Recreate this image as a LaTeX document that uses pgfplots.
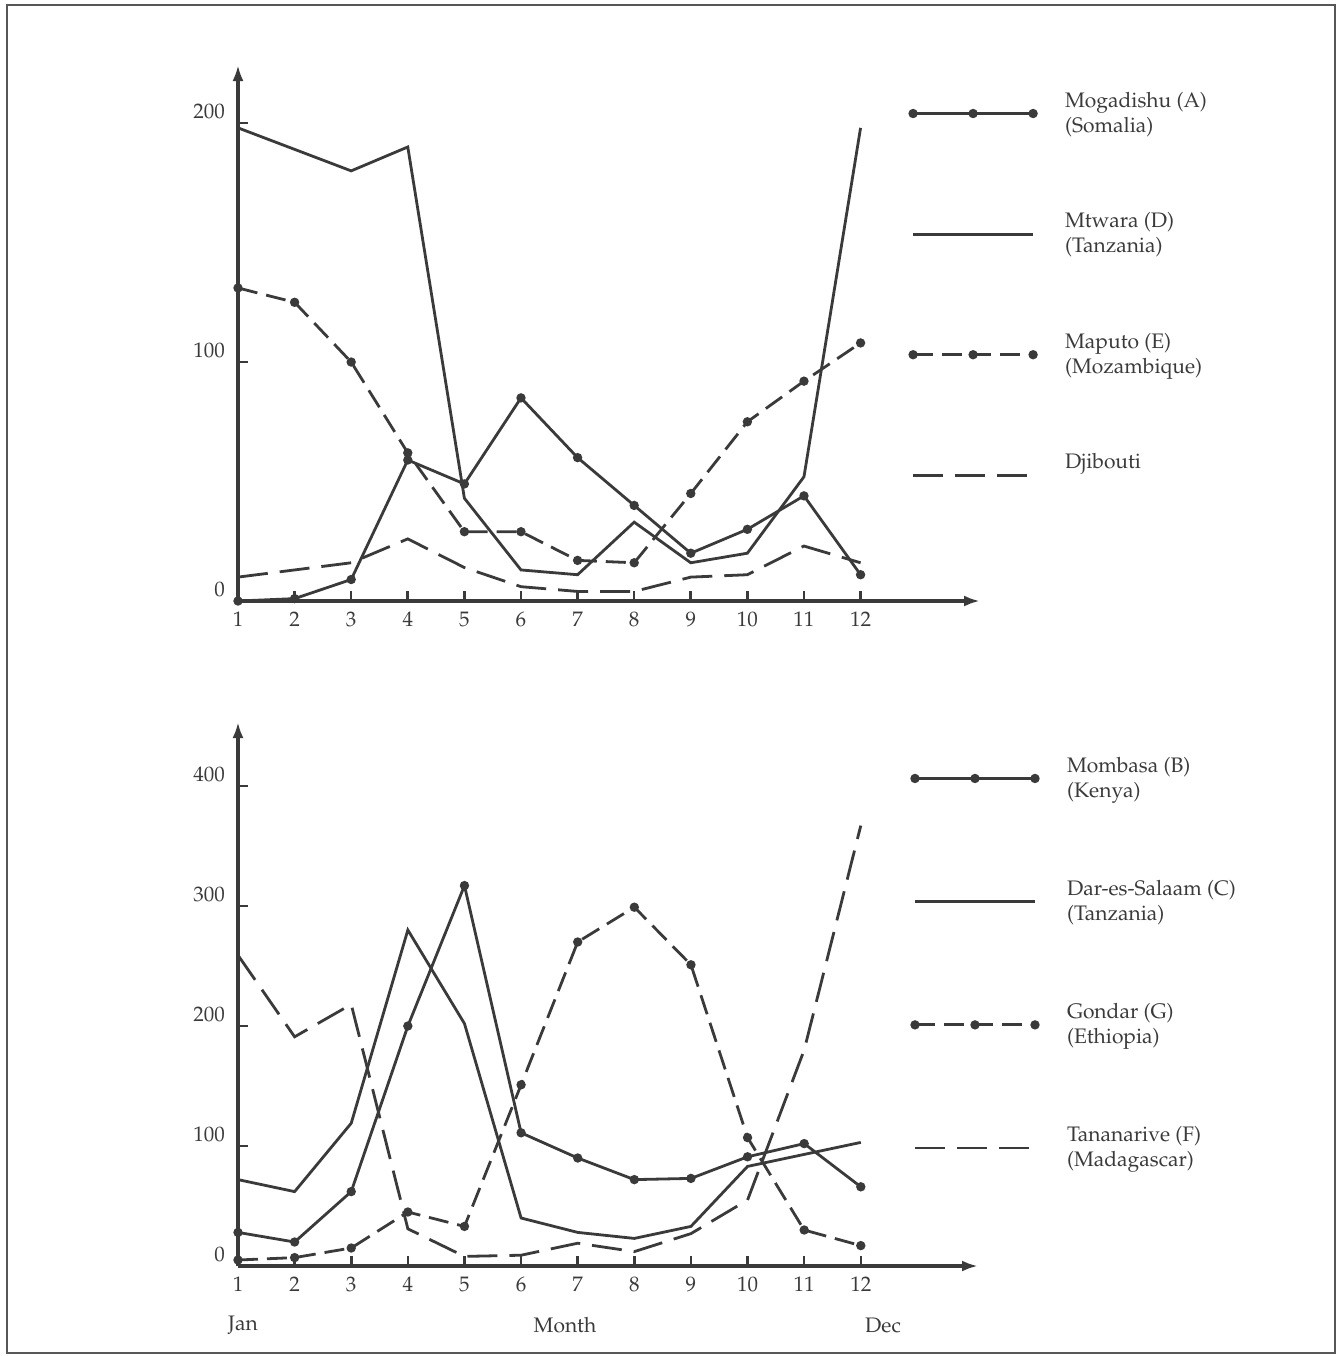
\documentclass[border=0pt]{standalone}
\usepackage[T1]{fontenc}
\usepackage{mathpazo}
\usepackage{pgfplots}
\pgfplotsset{compat=1.18}
\usetikzlibrary{arrows.meta}
\definecolor{ink}{RGB}{58,58,58}
\begin{document}
\begin{tikzpicture}[font=\fontsize{10.5}{12.5}\selectfont]
\path[use as bounding box] (0pt,0pt) rectangle (669pt,-678pt);
\draw[ink!85, line width=1pt] (3.5pt,-2.5pt) rectangle (667.5pt,-676.5pt);
\pgfplotsset{
  panel/.style={
    scale only axis, clip=false,
    axis lines=left,
    axis line style={ink, line width=1.6pt, -{Latex[length=8pt,width=5.5pt]}},
    tick align=inside, major tick length=5pt,
    tick style={ink, line width=1.3pt},
    xtick={1,2,...,12},
    /pgf/number format/assume math mode=true,
    ticklabel style={font=\fontsize{10.5}{12.5}\selectfont, text=ink},
    yticklabel style={yshift=6pt, xshift=-3pt},
    xticklabel style={yshift=-2pt},
    legend style={draw=none, fill=none, inner sep=0pt, row sep=34.7pt,
      font=\fontsize{10.5}{12.5}\selectfont, text=ink,
      cells={anchor=west, align=left}},
    legend image code/.code={
      \draw[##1] plot coordinates {(0pt,0pt) (30pt,0pt) (60pt,0pt)};
      \path[draw=none] (0pt,0pt) -- (74pt,0pt);
    },
  },
  sA/.style={ink, line width=1.4pt, solid, mark=*, mark size=1.6pt, mark options={solid, fill=ink}},
  sD/.style={ink, line width=1.4pt, solid, no markers},
  sE/.style={ink, line width=1.4pt, dash pattern=on 10pt off 4.5pt, mark=*, mark size=1.6pt, mark options={solid, fill=ink}},
  sF/.style={ink, line width=1.4pt, dash pattern=on 15pt off 6pt, no markers},
}
% ---------------- top panel ----------------
\begin{axis}[panel,
  at={(119pt,-300.5pt)}, anchor=south west,
  width=371pt, height=268pt,
  xmin=1, xmax=14.11, ymin=0, ymax=224.3,
  ytick={0,100,200},
  legend style={at={(axis description cs:0.905,0.958)}, anchor=north west},
]
\addplot[sA] coordinates {(1,0) (2,1) (3,9) (4,59) (5,49) (6,85) (7,60) (8,40) (9,20) (10,30) (11,44) (12,11)};
\addlegendentry{Mogadishu (A)\\(Somalia)}
\addplot[sD] coordinates {(1,198) (2,189) (3,180) (4,190) (5,43) (6,13) (7,11) (8,33) (9,16) (10,20) (11,52) (12,198)};
\addlegendentry{Mtwara (D)\\(Tanzania)}
\addplot[sE] coordinates {(1,131) (2,125) (3,100) (4,62) (5,29) (6,29) (7,17) (8,16) (9,45) (10,75) (11,92) (12,108)};
\addlegendentry{Maputo (E)\\(Mozambique)}
\addplot[sF] coordinates {(1,10) (2,13) (3,16) (4,26) (5,14) (6,6) (7,4) (8,4) (9,10) (10,11) (11,23) (12,16)};
\addlegendentry{Djibouti\\\strut}
\end{axis}
% ---------------- bottom panel ----------------
\begin{axis}[panel,
  at={(119pt,-633pt)}, anchor=south west,
  width=370pt, height=272pt,
  xmin=1, xmax=14.07, ymin=0, ymax=453.3,
  ytick={0,100,200,300,400},
  legend style={at={(axis description cs:0.91,0.944)}, anchor=north west, row sep=36pt},
]
\addplot[sA] coordinates {(1,28) (2,20) (3,62) (4,200) (5,317) (6,111) (7,90) (8,72) (9,73) (10,91) (11,102) (12,66)};
\addlegendentry{Mombasa (B)\\(Kenya)}
\addplot[sD] coordinates {(1,72) (2,62) (3,119) (4,280) (5,202) (6,40) (7,28) (8,23) (9,33) (10,83) (11,93) (12,103)};
\addlegendentry{Dar-es-Salaam (C)\\(Tanzania)}
\addplot[sE] coordinates {(1,5) (2,7) (3,15) (4,45) (5,33) (6,151) (7,270) (8,299) (9,251) (10,107) (11,30) (12,17)};
\addlegendentry{Gondar (G)\\(Ethiopia)}
\addplot[sF] coordinates {(1,259) (2,191) (3,218) (4,31) (5,8) (6,9) (7,19) (8,12) (9,27) (10,55) (11,180) (12,367)};
\addlegendentry{Tananarive (F)\\(Madagascar)}
\end{axis}
\node[text=ink] at (121.5pt,-662.5pt) {Jan};
\node[text=ink] at (282.5pt,-662.5pt) {Month};
\node[text=ink] at (441.5pt,-662.5pt) {Dec};
\end{tikzpicture}
\end{document}
